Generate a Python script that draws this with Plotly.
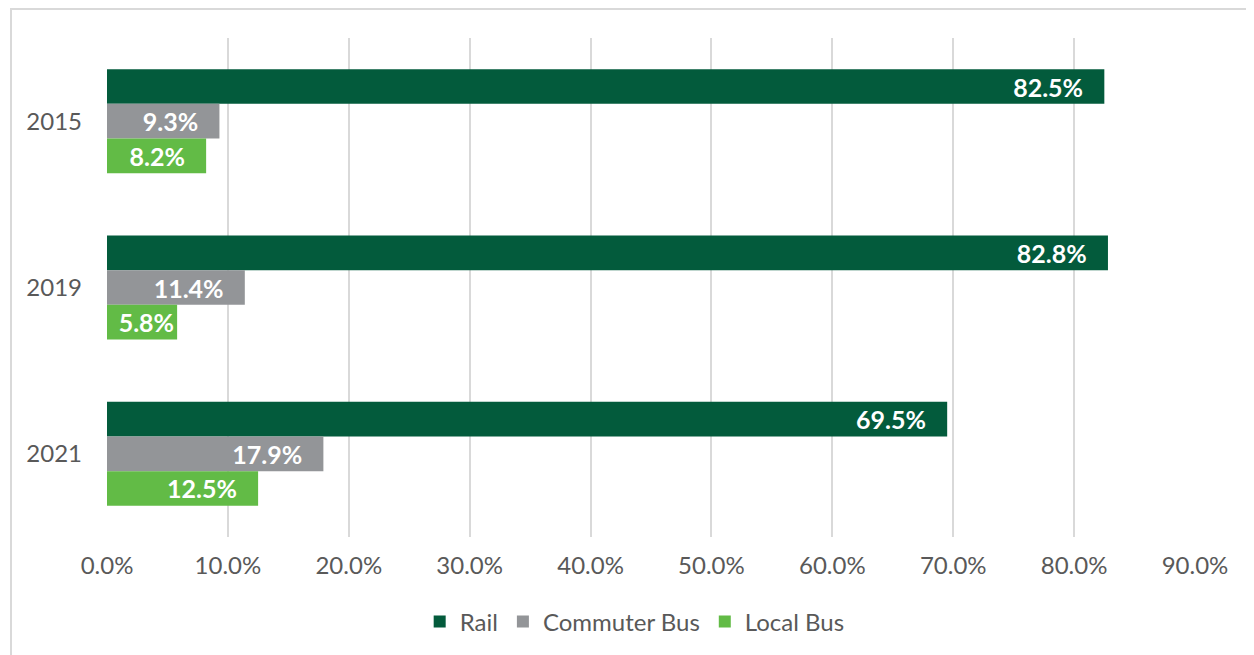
import plotly.graph_objects as go

years = ["2015", "2019", "2021"]
rail = [82.5, 82.8, 69.5]
commuter_bus = [9.3, 11.4, 17.9]
local_bus = [8.2, 5.8, 12.5]
x_ticks = [0, 10, 20, 30, 40, 50, 60, 70, 80, 90]
x_tick_labels = [f"{v:.1f}%" for v in x_ticks]

series = [
    ("Rail", rail, "#035B3C"),
    ("Commuter Bus", commuter_bus, "#939598"),
    ("Local Bus", local_bus, "#62BB46"),
]


def label(v):
    pad = "\u00a0\u00a0\u00a0" if v >= 7 else ""
    return f"{v:.1f}%{pad}"


fig = go.Figure()
for name, vals, color in series:
    fig.add_trace(go.Bar(
        y=years, x=vals, name=name, orientation="h",
        marker=dict(color=color, line=dict(width=0)),
        text=[label(v) for v in vals],
        textposition="inside", insidetextanchor="end",
        constraintext="none", cliponaxis=False,
        textfont=dict(family="Lato", size=25, color="white", weight="bold"),
        hoverinfo="skip",
    ))

fig.update_layout(
    width=1254, height=655,
    margin=dict(l=99, r=67, t=30, b=126),
    paper_bgcolor="white", plot_bgcolor="white",
    barmode="group", bargap=0.375, bargroupgap=0,
    font=dict(family="Lato", size=24, color="#595959"),
    legend=dict(orientation="h", x=0.485, xanchor="center", y=-0.17, yanchor="middle",
                font=dict(size=24, color="#595959"), itemwidth=30, traceorder="normal"),
    xaxis=dict(range=[0, 90], tickvals=x_ticks, ticktext=x_tick_labels,
               showgrid=True, gridcolor="#d9d9d9", gridwidth=2,
               zeroline=False, showline=False, ticks="", ticklabelstandoff=12),
    yaxis=dict(autorange="reversed", showgrid=False, zeroline=False, showline=False,
               ticks="", ticklabelstandoff=24),
    shapes=[dict(type="rect", xref="paper", yref="paper",
                 x0=(11 - 107) / 1088, x1=(1262 - 107) / 1088,
                 y0=(537 - 662) / 499, y1=1 + 29 / 499,
                 line=dict(color="#d9d9d9", width=2), layer="below")],
)

fig.write_html("out.html")
